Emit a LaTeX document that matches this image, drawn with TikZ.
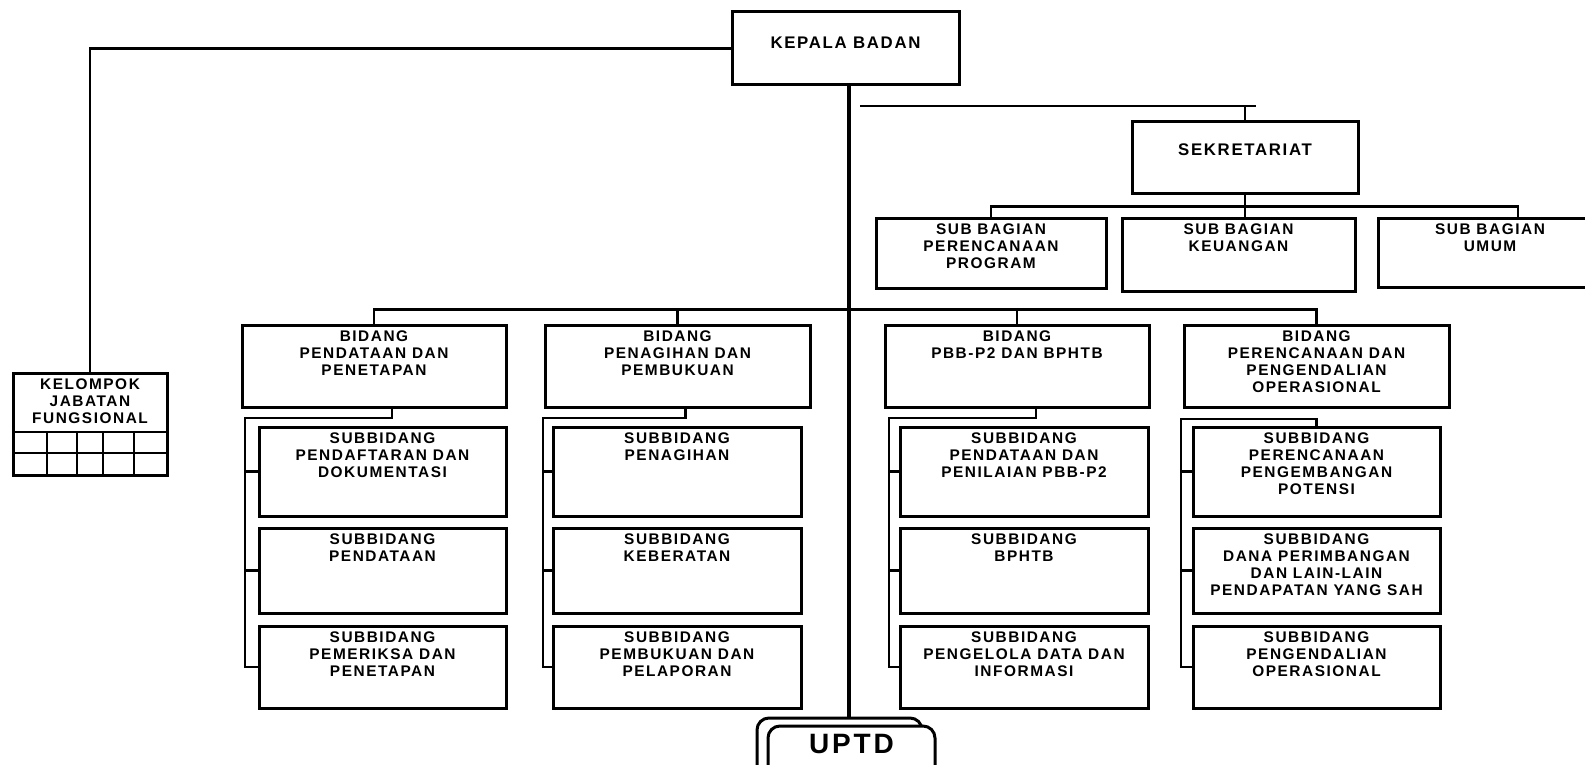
\documentclass[tikz,border=0pt]{standalone}
\usepackage{fontspec}
\setmainfont{Liberation Sans}[LetterSpace=10]
\usetikzlibrary{fit,positioning}
\tikzset{
  box/.style={draw, line width=1.5pt, inner sep=0pt, fill=white},
  lbl/.style={font=\fontsize{7.7}{8.4}\selectfont\bfseries, align=center, inner sep=0pt, anchor=north, yshift=-3.5pt},
  head/.style={font=\fontsize{8.4}{9}\selectfont\bfseries, inner sep=0pt, anchor=north},
  conn/.style={line width=1.4pt},
  trunkline/.style={line width=2pt}
}
\begin{document}
\begin{tikzpicture}[x=0.5pt, y=-0.5pt, line cap=rect]
    \clip (0,0) rectangle (1585,765);

    % pimpinan dan sekretariat
    \node[box, fit={(732,12) (959,85)}] (kep) {};
    \node[head, yshift=-13pt] at (kep.north) {KEPALA BADAN};

    \node[box, fit={(1132,122) (1358,193)}] (sek) {};
    \node[head, yshift=-11.5pt] at (sek.north) {SEKRETARIAT};

    \node[box, fit={(876,218) (1106,288)}] (sb1) {};
    \node[box, fit={(1122,218) (1355,291)}] (sb2) {};
    \node[box, fit={(1378,218) (1610,287)}] (sb3) {};
    \node[lbl] at (sb1.north) {SUB BAGIAN\\PERENCANAAN\\PROGRAM};
    \node[lbl] at (sb2.north) {SUB BAGIAN\\KEUANGAN};
    \node[lbl, xshift=-2pt] at (sb3.north) {SUB BAGIAN\\UMUM};

    % kelompok jabatan fungsional
    \node[box, fit={(13,373) (167,475)}] (kel) {};
    \node[lbl] at (kel.north) {KELOMPOK\\JABATAN\\FUNGSIONAL};
    \draw[conn] (13,432) -- (167,432) (13,453) -- (167,453);
    \foreach \x in {47,77,103,134}
        \draw[conn] (\x,432) -- (\x,475);

    % bidang
    \node[box, fit={(242,325) (506,407)}] (bid1) {};
    \node[box, fit={(545,325) (810,407)}] (bid2) {};
    \node[box, fit={(885,325) (1149,407)}] (bid3) {};
    \node[box, fit={(1184,325) (1449,407)}] (bid4) {};
    \node[lbl] at (bid1.north) {BIDANG\\PENDATAAN DAN\\PENETAPAN};
    \node[lbl] at (bid2.north) {BIDANG\\PENAGIHAN DAN\\PEMBUKUAN};
    \node[lbl] at (bid3.north) {BIDANG\\PBB-P2 DAN BPHTB};
    \node[lbl] at (bid4.north) {BIDANG\\PERENCANAAN DAN\\PENGENDALIAN\\OPERASIONAL};

    % subbidang
    \node[box, fit={(259,427) (506,516)}] (sub11) {};
    \node[box, fit={(259,528) (506,613)}] (sub12) {};
    \node[box, fit={(259,626) (506,708)}] (sub13) {};
    \node[box, fit={(553,427) (801,516)}] (sub21) {};
    \node[box, fit={(553,528) (801,613)}] (sub22) {};
    \node[box, fit={(553,626) (801,708)}] (sub23) {};
    \node[box, fit={(900,427) (1148,516)}] (sub31) {};
    \node[box, fit={(900,528) (1148,613)}] (sub32) {};
    \node[box, fit={(900,626) (1148,708)}] (sub33) {};
    \node[box, fit={(1193,427) (1440,516)}] (sub41) {};
    \node[box, fit={(1193,528) (1440,613)}] (sub42) {};
    \node[box, fit={(1193,626) (1440,708)}] (sub43) {};

    \node[lbl] at (sub11.north) {SUBBIDANG\\PENDAFTARAN DAN\\DOKUMENTASI};
    \node[lbl] at (sub12.north) {SUBBIDANG\\PENDATAAN};
    \node[lbl] at (sub13.north) {SUBBIDANG\\PEMERIKSA DAN\\PENETAPAN};
    \node[lbl] at (sub21.north) {SUBBIDANG\\PENAGIHAN};
    \node[lbl] at (sub22.north) {SUBBIDANG\\KEBERATAN};
    \node[lbl] at (sub23.north) {SUBBIDANG\\PEMBUKUAN DAN\\PELAPORAN};
    \node[lbl] at (sub31.north) {SUBBIDANG\\PENDATAAN DAN\\PENILAIAN PBB-P2};
    \node[lbl] at (sub32.north) {SUBBIDANG\\BPHTB};
    \node[lbl] at (sub33.north) {SUBBIDANG\\PENGELOLA DATA DAN\\INFORMASI};
    \node[lbl] at (sub41.north) {SUBBIDANG\\PERENCANAAN\\PENGEMBANGAN\\POTENSI};
    \node[lbl] at (sub42.north) {SUBBIDANG\\DANA PERIMBANGAN\\DAN LAIN-LAIN\\PENDAPATAN YANG SAH};
    \node[lbl] at (sub43.north) {SUBBIDANG\\PENGENDALIAN\\OPERASIONAL};

    % uptd
    \node[box, rounded corners=6pt, fit={(757,718) (922,790)}] (uptdb) {};
    \node[box, rounded corners=6pt, fit={(768,726) (935,790)}] (uptd) {};
    \node[font=\fontsize{14}{16}\selectfont\bfseries, inner sep=0pt, anchor=north, yshift=-4.5pt] at (uptd.north) {UPTD};

    % garis
    \coordinate (trunk) at (849,0);
    \coordinate (sekbar) at (861,106);
    \coordinate (sekend) at (1255,106);
    \coordinate (br1) at (245,418);
    \coordinate (br2) at (543,418);
    \coordinate (br3) at (889,418);
    \coordinate (br4) at (1181,419);

    \draw[trunkline] (kep.south -| trunk) -- (uptdb.north -| trunk);
    \draw[conn] (kep.west) -| (kel.north);

    \draw[conn] (sekbar) -- (sekend);
    \draw[conn] (sek.north) -- (sek.north |- sekbar);
    \draw[conn] (sek.south) -- (sek.south |- sb2.north);
    \draw[conn] (sb1.north) -- ++(0,-10) -| ([xshift=12pt]sb3.north);

    \draw[conn] (bid1.north) -- ++(0,-14) -| (bid4.north);
    \draw[conn] (bid2.north) -- ++(0,-14);
    \draw[conn] (bid3.north) -- ++(0,-14);

    \draw[conn] ([xshift=9pt]bid1.south) |- (br1) |- (sub13.west);
    \draw[conn] ([xshift=4pt]bid2.south) |- (br2) |- (sub23.west);
    \draw[conn] ([xshift=9.5pt]bid3.south) |- (br3) |- (sub33.west);
    \draw[conn] (sub41.north) |- (br4) |- (sub43.west);
    \foreach \c in {1,...,4}
        \foreach \r in {1,2}
            \draw[conn] (br\c |- sub\c\r.west) -- (sub\c\r.west);

\end{tikzpicture}
\end{document}
